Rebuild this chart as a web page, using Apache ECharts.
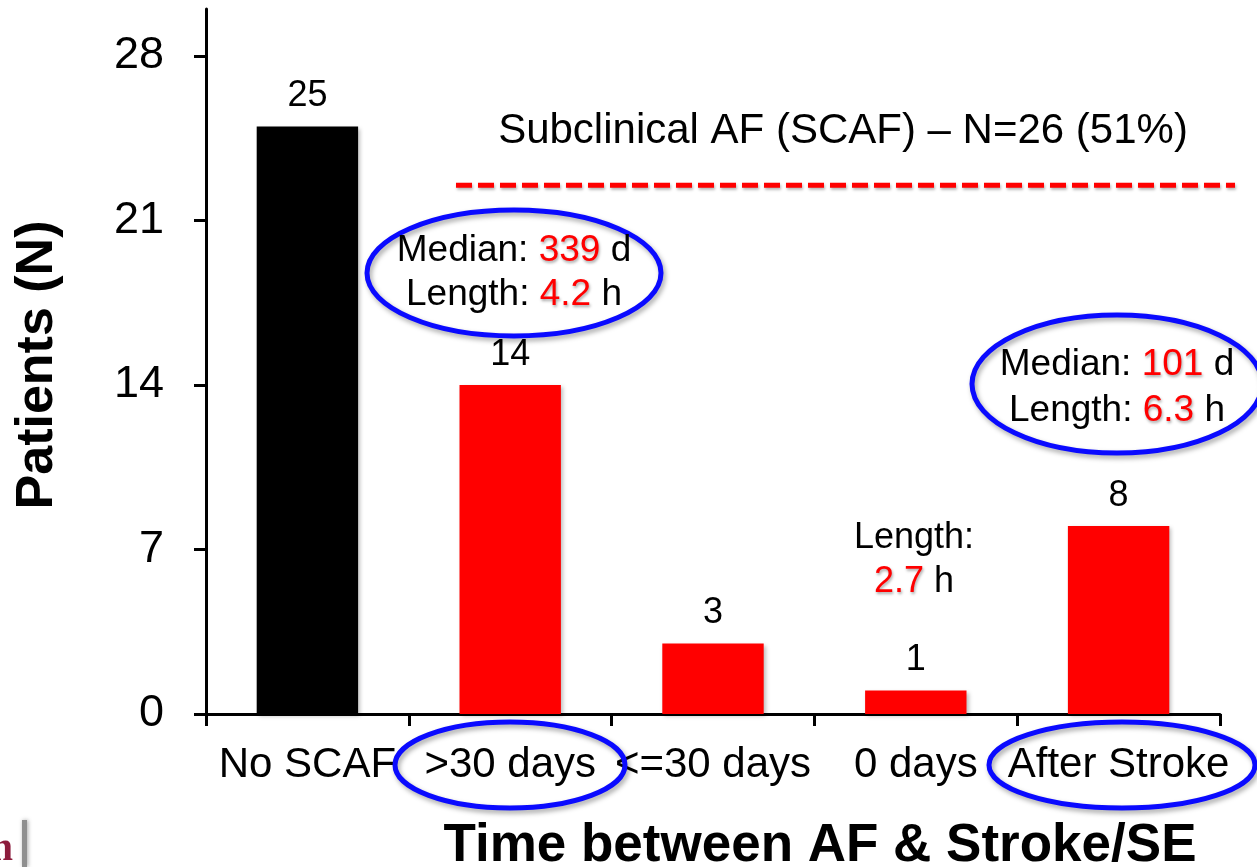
<!DOCTYPE html>
<html>
<head>
<meta charset="utf-8">
<title>Time between AF &amp; Stroke/SE</title>
<script src="https://cdn.jsdelivr.net/npm/echarts@6/dist/echarts.min.js"></script>
<style>
  html, body { margin: 0; padding: 0; background: #ffffff; }
  #chart { width: 1257px; height: 867px; }
</style>
</head>
<body>
<div id="chart"></div>
<script>
// Patients per timing group (AF detected relative to the stroke/systemic embolism)
const categories = ['No SCAF', '>30 days', '<=30 days', '0 days', 'After Stroke'];
const patients = [25, 14, 3, 1, 8];
const barColors = ['#000000', '#ff0000', '#ff0000', '#ff0000', '#ff0000'];

// Value axis
const yTicks = [0, 7, 14, 21, 28];
const yMax = 30;

// Annotations
const scafLevel = 22.5;
const scafNote = 'Subclinical AF (SCAF) \u2013 N=26 (51%)';
const earlyGroup = { median: 339, length: 4.2 };
const afterGroup = { median: 101, length: 6.3 };
const sameDayLength = 2.7;

const FONT = "'Liberation Sans', Arial, Helvetica, sans-serif";
const chart = echarts.init(document.getElementById('chart'), null, { renderer: 'canvas' });

const redShadow = { textShadowColor: 'rgba(0,0,0,0.35)', textShadowBlur: 3, textShadowOffsetX: 1, textShadowOffsetY: 2 };
const richStyles = (size) => ({
  k: { fontSize: size, fontFamily: FONT, fill: '#000000', color: '#000000' },
  v: Object.assign({ fontSize: size, fontFamily: FONT, fill: '#ff0000', color: '#ff0000' }, redShadow)
});

const ringStyle = {
  fill: 'none', stroke: '#0a0aff', lineWidth: 5,
  shadowBlur: 5, shadowOffsetX: 2, shadowOffsetY: 3, shadowColor: 'rgba(0,0,0,0.35)'
};

function note(x, y, text, size) {
  return {
    type: 'text', x: x, y: y, z: 20,
    style: { text: text, rich: richStyles(size), font: size + 'px ' + FONT, align: 'center', verticalAlign: 'middle', fill: '#000000' }
  };
}

const option = {
  backgroundColor: '#ffffff',
  animation: false,
  grid: { left: 206, right: 37, top: 9, bottom: 153, outerBoundsMode: 'none', containLabel: false },
  xAxis: {
    type: 'category',
    data: categories,
    axisLine: { lineStyle: { color: '#000000', width: 3 } },
    axisTick: { show: true, alignWithLabel: false, length: 12, lineStyle: { color: '#000000', width: 3 } },
    axisLabel: { interval: 0, margin: 30, fontSize: 42, fontFamily: FONT, color: '#000000' },
    splitLine: { show: false }
  },
  yAxis: {
    type: 'value',
    min: 0,
    max: yMax,
    interval: 7,
    axisLine: { show: true, lineStyle: { color: '#000000', width: 3 } },
    axisTick: { show: true, length: 12, customValues: yTicks, lineStyle: { color: '#000000', width: 3 } },
    axisLabel: { customValues: yTicks, margin: 42, fontSize: 45, fontFamily: FONT, color: '#000000' },
    splitLine: { show: false }
  },
  series: [{
    type: 'bar',
    data: patients.map((v, i) => ({ value: v, itemStyle: { color: barColors[i] } })),
    barWidth: '50%',
    itemStyle: { shadowBlur: 4, shadowOffsetX: 2, shadowOffsetY: 2, shadowColor: 'rgba(0,0,0,0.25)' },
    label: { show: true, position: 'top', distance: 12, fontSize: 36, fontFamily: FONT, color: '#000000' }
  }]
};

chart.setOption(option);

// Level of the SCAF bracket line, taken from the value axis
const scafY = chart.convertToPixel({ yAxisIndex: 0 }, scafLevel);

chart.setOption({
  graphic: [
    // dashed SCAF bracket
    {
      type: 'line', z: 10,
      shape: { x1: 456, y1: scafY, x2: 1235, y2: scafY },
      style: { stroke: '#ff0000', lineWidth: 5, lineDash: [16, 6], shadowBlur: 3, shadowOffsetX: 1, shadowOffsetY: 2, shadowColor: 'rgba(0,0,0,0.3)' }
    },
    {
      type: 'text', x: 843, y: 131, z: 20,
      style: { text: scafNote, font: '42px ' + FONT, fill: '#000000', align: 'center', verticalAlign: 'middle' }
    },
    // rings
    { type: 'ellipse', z: 15, shape: { cx: 514, cy: 273, rx: 147, ry: 63 }, style: ringStyle },
    { type: 'ellipse', z: 15, shape: { cx: 1117, cy: 384, rx: 145, ry: 69 }, style: ringStyle },
    { type: 'ellipse', z: 15, shape: { cx: 510, cy: 765, rx: 115, ry: 43 }, style: ringStyle },
    { type: 'ellipse', z: 15, shape: { cx: 1122, cy: 765, rx: 133, ry: 43 }, style: ringStyle },
    // group notes
    note(514, 251, '{k|Median: }{v|' + earlyGroup.median + '}{k| d}', 37),
    note(514, 295, '{k|Length: }{v|' + earlyGroup.length + '}{k| h}', 37),
    note(1117, 365, '{k|Median: }{v|' + afterGroup.median + '}{k| d}', 37),
    note(1117, 411, '{k|Length: }{v|' + afterGroup.length + '}{k| h}', 37),
    note(914, 538, '{k|Length:}', 36),
    note(914, 582, '{v|' + sameDayLength + '}{k| h}', 36),
    // axis titles
    {
      type: 'text', x: 38, y: 365, rotation: Math.PI / 2, z: 20,
      style: { text: 'Patients (N)', font: 'bold 52px ' + FONT, fill: '#000000', align: 'center', verticalAlign: 'middle' }
    },
    {
      type: 'text', x: 820, y: 846, z: 20,
      style: { text: 'Time between AF & Stroke/SE', font: 'bold 53px ' + FONT, fill: '#000000', align: 'center', verticalAlign: 'middle' }
    },
    // logo edge in the lower-left corner
    {
      type: 'rect', z: 5, shape: { x: 22, y: 820, width: 5, height: 47 },
      style: { fill: '#8f8f8f', shadowBlur: 4, shadowOffsetX: 1, shadowColor: 'rgba(0,0,0,0.35)' }
    },
    {
      type: 'text', x: 13, y: 870, z: 6,
      style: { text: 'n', font: 'bold 40px "Liberation Serif", "DejaVu Serif", serif', fill: '#8c1c3c', align: 'right', verticalAlign: 'bottom' }
    }
  ]
});
</script>
</body>
</html>
